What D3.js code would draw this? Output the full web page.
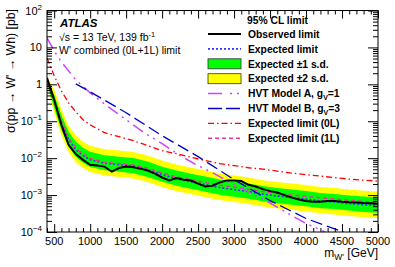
<!DOCTYPE html>
<html>
<head>
<meta charset="utf-8">
<script src="https://cdn.jsdelivr.net/npm/d3@7"></script>
<style>
  body { margin: 0; background: #fff; }
  svg { display: block; font-family: "Liberation Sans", Arial, Helvetica, sans-serif; }
</style>
</head>
<body>
<div id="chart"></div>
<script>
// observed limit, one point per 100 GeV
const obsMass = [400, 500, 600, 700, 800, 900, 1000, 1100, 1200, 1300, 1400, 1500, 1600, 1700, 1800, 1900,
    2000, 2100, 2200, 2300, 2400, 2500, 2600, 2700, 2800, 2900, 3000, 3100, 3200, 3300, 3400, 3500,
    3600, 3700, 3800, 3900, 4000, 4100, 4200, 4300, 4400, 4500, 4600, 4700, 4800, 4900, 5000];
const observed = [1.5, 0.38, 0.080, 0.023, 0.013, 0.009, 0.0066, 0.0063, 0.0059, 0.0043, 0.0054, 0.0059, 0.0057, 0.0052, 0.0046, 0.0038,
    0.0030, 0.0025, 0.0029, 0.0026, 0.00247, 0.00204, 0.0017, 0.0018, 0.0022, 0.0025, 0.0025, 0.0024, 0.0019, 0.0017, 0.00145, 0.00128,
    0.00117, 0.0010, 0.00086, 0.00076, 0.00069, 0.00066, 0.00066, 0.00069, 0.00069, 0.00066, 0.00064, 0.00063, 0.00061, 0.0006, 0.00058];

// expected limits and bands
const gridMass = [400, 500, 600, 700, 800, 900, 1000, 1200, 1400, 1600, 1800, 2000, 2200, 2400, 2600, 2800,
    3000, 3200, 3400, 3600, 3800, 4000, 4200, 4400, 4600, 4800, 5000];
const expected = [1.24, 0.34, 0.091, 0.032, 0.017, 0.0117, 0.0091, 0.0073, 0.0067, 0.0061, 0.0049, 0.00358, 0.00279, 0.00232, 0.00192, 0.0016,
    0.00141, 0.00124, 0.00106, 0.00094, 0.00086, 0.00078, 0.00069, 0.00065, 0.00059, 0.00055, 0.00052];
const plus2 = [1.7, 0.7, 0.21, 0.077, 0.041, 0.028, 0.0218, 0.0175, 0.0161, 0.0146, 0.0118, 0.0086, 0.0067, 0.0056, 0.0046, 0.00384,
    0.00338, 0.00298, 0.00254, 0.00226, 0.00206, 0.00187, 0.00166, 0.00156, 0.00142, 0.00132, 0.00125];
const plus1 = [1.45, 0.52, 0.148, 0.053, 0.028, 0.0193, 0.015, 0.012, 0.011, 0.0101, 0.0081, 0.0059, 0.0046, 0.0038, 0.00317, 0.00264,
    0.00233, 0.00205, 0.00175, 0.00155, 0.00142, 0.00129, 0.00114, 0.00107, 0.00097, 0.00091, 0.00086];
const minus1 = [1.05, 0.23, 0.058, 0.0205, 0.0109, 0.0075, 0.0058, 0.0047, 0.0043, 0.0039, 0.0031, 0.00229, 0.00179, 0.00148, 0.00123, 0.00102,
    0.0009, 0.00079, 0.00068, 0.0006, 0.00055, 0.0005, 0.00044, 0.00042, 0.00038, 0.00035, 0.00033];
const minus2 = [0.9, 0.17, 0.042, 0.0147, 0.0078, 0.0054, 0.0042, 0.0034, 0.0031, 0.0028, 0.00225, 0.00165, 0.00128, 0.00107, 0.00088, 0.00074,
    0.00065, 0.00057, 0.00049, 0.00043, 0.0004, 0.00036, 0.00032, 0.0003, 0.00027, 0.00025, 0.00024];
const exp0L = [5.2, 1.70, 0.667, 0.316, 0.181, 0.11, 0.080, 0.0489, 0.0381, 0.0297, 0.0218, 0.016, 0.0132, 0.0106, 0.0086, 0.0071,
    0.0063, 0.0055, 0.00505, 0.00446, 0.00394, 0.00358, 0.00326, 0.00297, 0.0027, 0.00254, 0.00239];
const exp1L = [1.3, 0.37, 0.1, 0.035, 0.019, 0.0128, 0.0098, 0.0077, 0.0071, 0.0065, 0.0053, 0.0040, 0.0031, 0.0026, 0.0022, 0.00185,
    0.00165, 0.00145, 0.00125, 0.00111, 0.00101, 0.00092, 0.00084, 0.00078, 0.00072, 0.00067, 0.00063];

// HVT predictions
const hvtAMass = [400, 500, 600, 800, 1000, 1250, 1500, 1750, 2000, 2250, 2500, 2750, 3000, 3250, 3500, 3750, 4000, 4250, 4300];
const hvtA = [18.1, 8.0, 4.06, 1.32, 0.589, 0.247, 0.11, 0.0489, 0.0247, 0.0117, 0.00627, 0.00358, 0.00192, 0.0011, 0.00061, 0.000316, 0.00017, 0.000103, 0.00009];
const hvtBMass = [800, 1000, 1500, 2000, 2500, 3000, 3500, 4000, 4500, 4600];
const hvtB = [1.03, 0.627, 0.170, 0.0406, 0.011, 0.00262, 0.00071, 0.000232, 0.000103, 0.00008];

const xTicks = [500, 1000, 1500, 2000, 2500, 3000, 3500, 4000, 4500, 5000];
const yTicks = [1e2, 1e1, 1, 1e-1, 1e-2, 1e-3, 1e-4];
const yTickBase = ["10", "10", "1", "10", "10", "10", "10"];
const yTickExp = ["2", "", "", "\u22121", "\u22122", "\u22123", "\u22124"];

const width = 395, height = 267;
const plotLeft = 47, plotRight = 378, plotTop = 10.5, plotBottom = 232;

const svg = d3.select("#chart").append("svg")
    .attr("width", width)
    .attr("height", height)
    .attr("viewBox", [0, 0, width, height]);

const x = d3.scaleLinear().domain([400, 5000]).range([plotLeft, plotRight]);
const y = d3.scaleLog().domain([1e-4, 1e2]).range([plotBottom, plotTop]);

svg.append("clipPath").attr("id", "plot-clip")
    .append("rect")
    .attr("x", plotLeft).attr("y", plotTop)
    .attr("width", plotRight - plotLeft).attr("height", plotBottom - plotTop);

const plot = svg.append("g").attr("clip-path", "url(#plot-clip)");

const bandYellow = d3.area()
    .x((d, i) => x(gridMass[i]))
    .y0((d, i) => y(minus2[i]))
    .y1((d, i) => y(plus2[i]));
const bandGreen = d3.area()
    .x((d, i) => x(gridMass[i]))
    .y0((d, i) => y(minus1[i]))
    .y1((d, i) => y(plus1[i]));

plot.append("path").datum(gridMass).attr("d", bandYellow).attr("fill", "#ffff00");
plot.append("path").datum(gridMass).attr("d", bandGreen).attr("fill", "#00ff00");

function drawLine(masses, values, color, widthPx, dash) {
    const line = d3.line()
        .x((d, i) => x(masses[i]))
        .y((d, i) => y(values[i]));
    plot.append("path")
        .datum(masses)
        .attr("d", line)
        .attr("fill", "none")
        .attr("stroke", color)
        .attr("stroke-width", widthPx)
        .attr("stroke-dasharray", dash);
}

drawLine(gridMass, expected, "#3333ff", 1.6, "2,2");
drawLine(gridMass, exp1L, "#ee3399", 1.5, "4,3");
drawLine(gridMass, exp0L, "#ff0000", 1.3, "6,3,1.5,3");
drawLine(hvtAMass, hvtA, "#cc44ff", 1.5, "12,5,2,5,2,5");
drawLine(hvtBMass, hvtB, "#0000cc", 1.3, "12,5");
drawLine(obsMass, observed, "#000000", 2, null);

// axes, ROOT style: ticks inside on all four sides
const minorX = d3.range(400, 5001, 100).filter(v => v % 500 !== 0);
const minorY = [];
[1e-4, 1e-3, 1e-2, 1e-1, 1, 1e1].forEach(d => {
    for (let k = 2; k <= 9; k++) minorY.push(d * k);
});

function tickAxis(axisFn, scale, transform, values, size) {
    const g = svg.append("g")
        .attr("transform", transform)
        .call(axisFn(scale).tickValues(values).tickSizeInner(size).tickSizeOuter(0).tickFormat(""));
    g.select(".domain").remove();
    g.selectAll("line").attr("stroke", "#000").attr("stroke-width", 1);
    return g;
}

tickAxis(d3.axisBottom, x, `translate(0,${plotBottom})`, xTicks, -8);
tickAxis(d3.axisBottom, x, `translate(0,${plotBottom})`, minorX, -4);
tickAxis(d3.axisTop, x, `translate(0,${plotTop})`, xTicks, -8);
tickAxis(d3.axisTop, x, `translate(0,${plotTop})`, minorX, -4);
tickAxis(d3.axisLeft, y, `translate(${plotLeft},0)`, yTicks, -10);
tickAxis(d3.axisLeft, y, `translate(${plotLeft},0)`, minorY, -5);
tickAxis(d3.axisRight, y, `translate(${plotRight},0)`, yTicks, -10);
tickAxis(d3.axisRight, y, `translate(${plotRight},0)`, minorY, -5);

svg.append("rect")
    .attr("x", plotLeft).attr("y", plotTop)
    .attr("width", plotRight - plotLeft).attr("height", plotBottom - plotTop)
    .attr("fill", "none").attr("stroke", "#000").attr("stroke-width", 1);

// tick labels
svg.append("g").selectAll("text")
    .data(xTicks)
    .join("text")
    .attr("x", d => x(d))
    .attr("y", 245)
    .attr("text-anchor", "middle")
    .attr("font-size", 11)
    .text(d => d);

const yLab = svg.append("g").selectAll("text")
    .data(yTicks)
    .join("text")
    .attr("x", 42)
    .attr("y", d => y(d) + 4)
    .attr("text-anchor", "end")
    .attr("font-size", 11);
yLab.append("tspan").text((d, i) => yTickBase[i]);
yLab.append("tspan")
    .attr("dy", -5)
    .attr("font-size", 8)
    .text((d, i) => yTickExp[i]);

// axis titles
svg.append("text")
    .attr("transform", "translate(15,9) rotate(-90)")
    .attr("text-anchor", "end")
    .attr("font-size", 12.3)
    .text("\u03c3(pp \u2192 W' \u2192 Wh) [pb]");

const xTitle = svg.append("text")
    .attr("x", plotRight)
    .attr("y", 257)
    .attr("text-anchor", "end")
    .attr("font-size", 12);
xTitle.append("tspan").text("m");
xTitle.append("tspan").attr("font-size", 8.5).attr("dy", 3).text("W'");
xTitle.append("tspan").attr("dy", -3).text(" [GeV]");

// ATLAS label block
svg.append("text")
    .attr("x", 60).attr("y", 26.5)
    .attr("font-size", 11.5)
    .attr("font-weight", "bold")
    .attr("font-style", "italic")
    .text("ATLAS");

const sLine = svg.append("text")
    .attr("x", 59).attr("y", 40.5)
    .attr("font-size", 10.5);
sLine.append("tspan").text("\u221as = 13 TeV, 139 fb");
sLine.append("tspan").attr("dy", -4).attr("font-size", 7.5).text("-1");

svg.append("text")
    .attr("x", 59).attr("y", 54)
    .attr("font-size", 10.5)
    .text("W' combined (0L+1L) limit");

// legend
const legend = svg.append("g");
legend.append("text")
    .attr("x", 247).attr("y", 23.5)
    .attr("font-size", 10.3)
    .attr("font-weight", "bold")
    .text("95% CL limit");

const entries = [
    { label: ["Observed limit"], kind: "line", color: "#000", w: 2, dash: null },
    { label: ["Expected limit"], kind: "line", color: "#3333ff", w: 1.6, dash: "2,2" },
    { label: ["Expected \u00b11 s.d."], kind: "box", color: "#00ff00" },
    { label: ["Expected \u00b12 s.d."], kind: "box", color: "#ffff00" },
    { label: ["HVT Model A, g", "V", "=1"], kind: "line", color: "#cc44ff", w: 1.5, dash: "14,8,2,5,2,5" },
    { label: ["HVT Model B, g", "V", "=3"], kind: "line", color: "#0000cc", w: 1.3, dash: "14,4" },
    { label: ["Expected limit (0L)"], kind: "line", color: "#ff0000", w: 1.3, dash: "6,3,1.5,3" },
    { label: ["Expected limit (1L)"], kind: "line", color: "#ee3399", w: 1.5, dash: "4,3" }
];

entries.forEach((e, i) => {
    const cy = 34 + i * 14.9;
    if (e.kind === "line") {
        legend.append("line")
            .attr("x1", 208).attr("x2", 241)
            .attr("y1", cy).attr("y2", cy)
            .attr("stroke", e.color)
            .attr("stroke-width", e.w)
            .attr("stroke-dasharray", e.dash);
    } else {
        legend.append("rect")
            .attr("x", 208).attr("y", cy - 5)
            .attr("width", 33).attr("height", 10)
            .attr("fill", e.color)
            .attr("stroke", "#333")
            .attr("stroke-width", 0.8);
    }
    const t = legend.append("text")
        .attr("x", 248).attr("y", cy + 3.7)
        .attr("font-size", 10.3)
        .attr("font-weight", "bold");
    t.append("tspan").text(e.label[0]);
    if (e.label.length > 1) {
        t.append("tspan").attr("dy", 3).attr("font-size", 7).text(e.label[1]);
        t.append("tspan").attr("dy", -3).text(e.label[2]);
    }
});
</script>
</body>
</html>
